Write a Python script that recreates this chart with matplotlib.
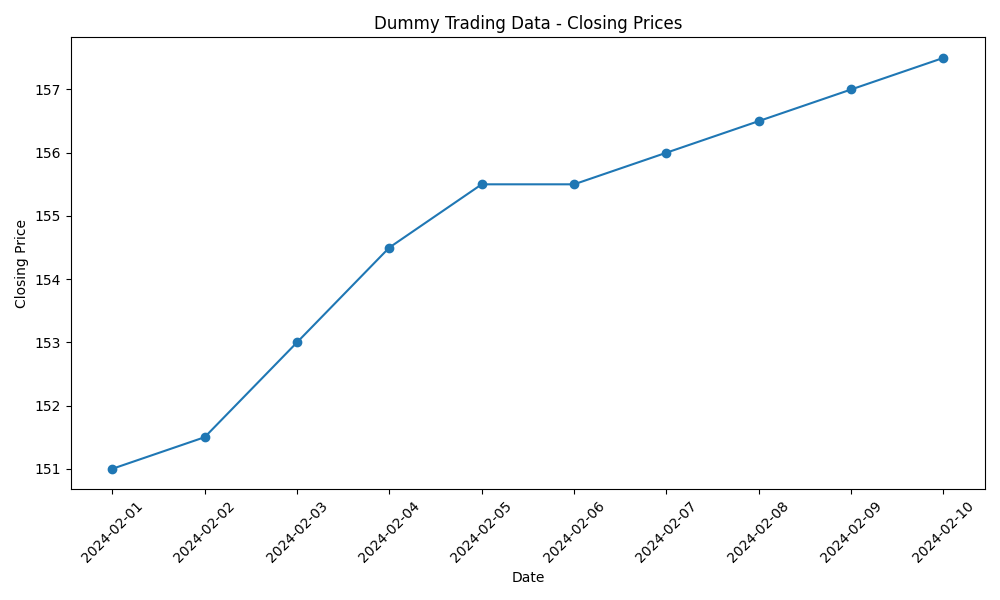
import matplotlib
matplotlib.use("Agg")
import matplotlib.pyplot as plt

dates = ['2024-02-01', '2024-02-02', '2024-02-03', '2024-02-04', '2024-02-05',
         '2024-02-06', '2024-02-07', '2024-02-08', '2024-02-09', '2024-02-10']
closing = [151.0, 151.5, 153.0, 154.5, 155.5, 155.5, 156.0, 156.5, 157.0, 157.5]

plt.figure(figsize=(10, 6))
plt.plot(dates, closing, marker='o')
plt.title('Dummy Trading Data - Closing Prices')
plt.xlabel('Date')
plt.ylabel('Closing Price')
plt.xticks(rotation=45)
plt.tight_layout()
plt.savefig('out.png', dpi=100)
